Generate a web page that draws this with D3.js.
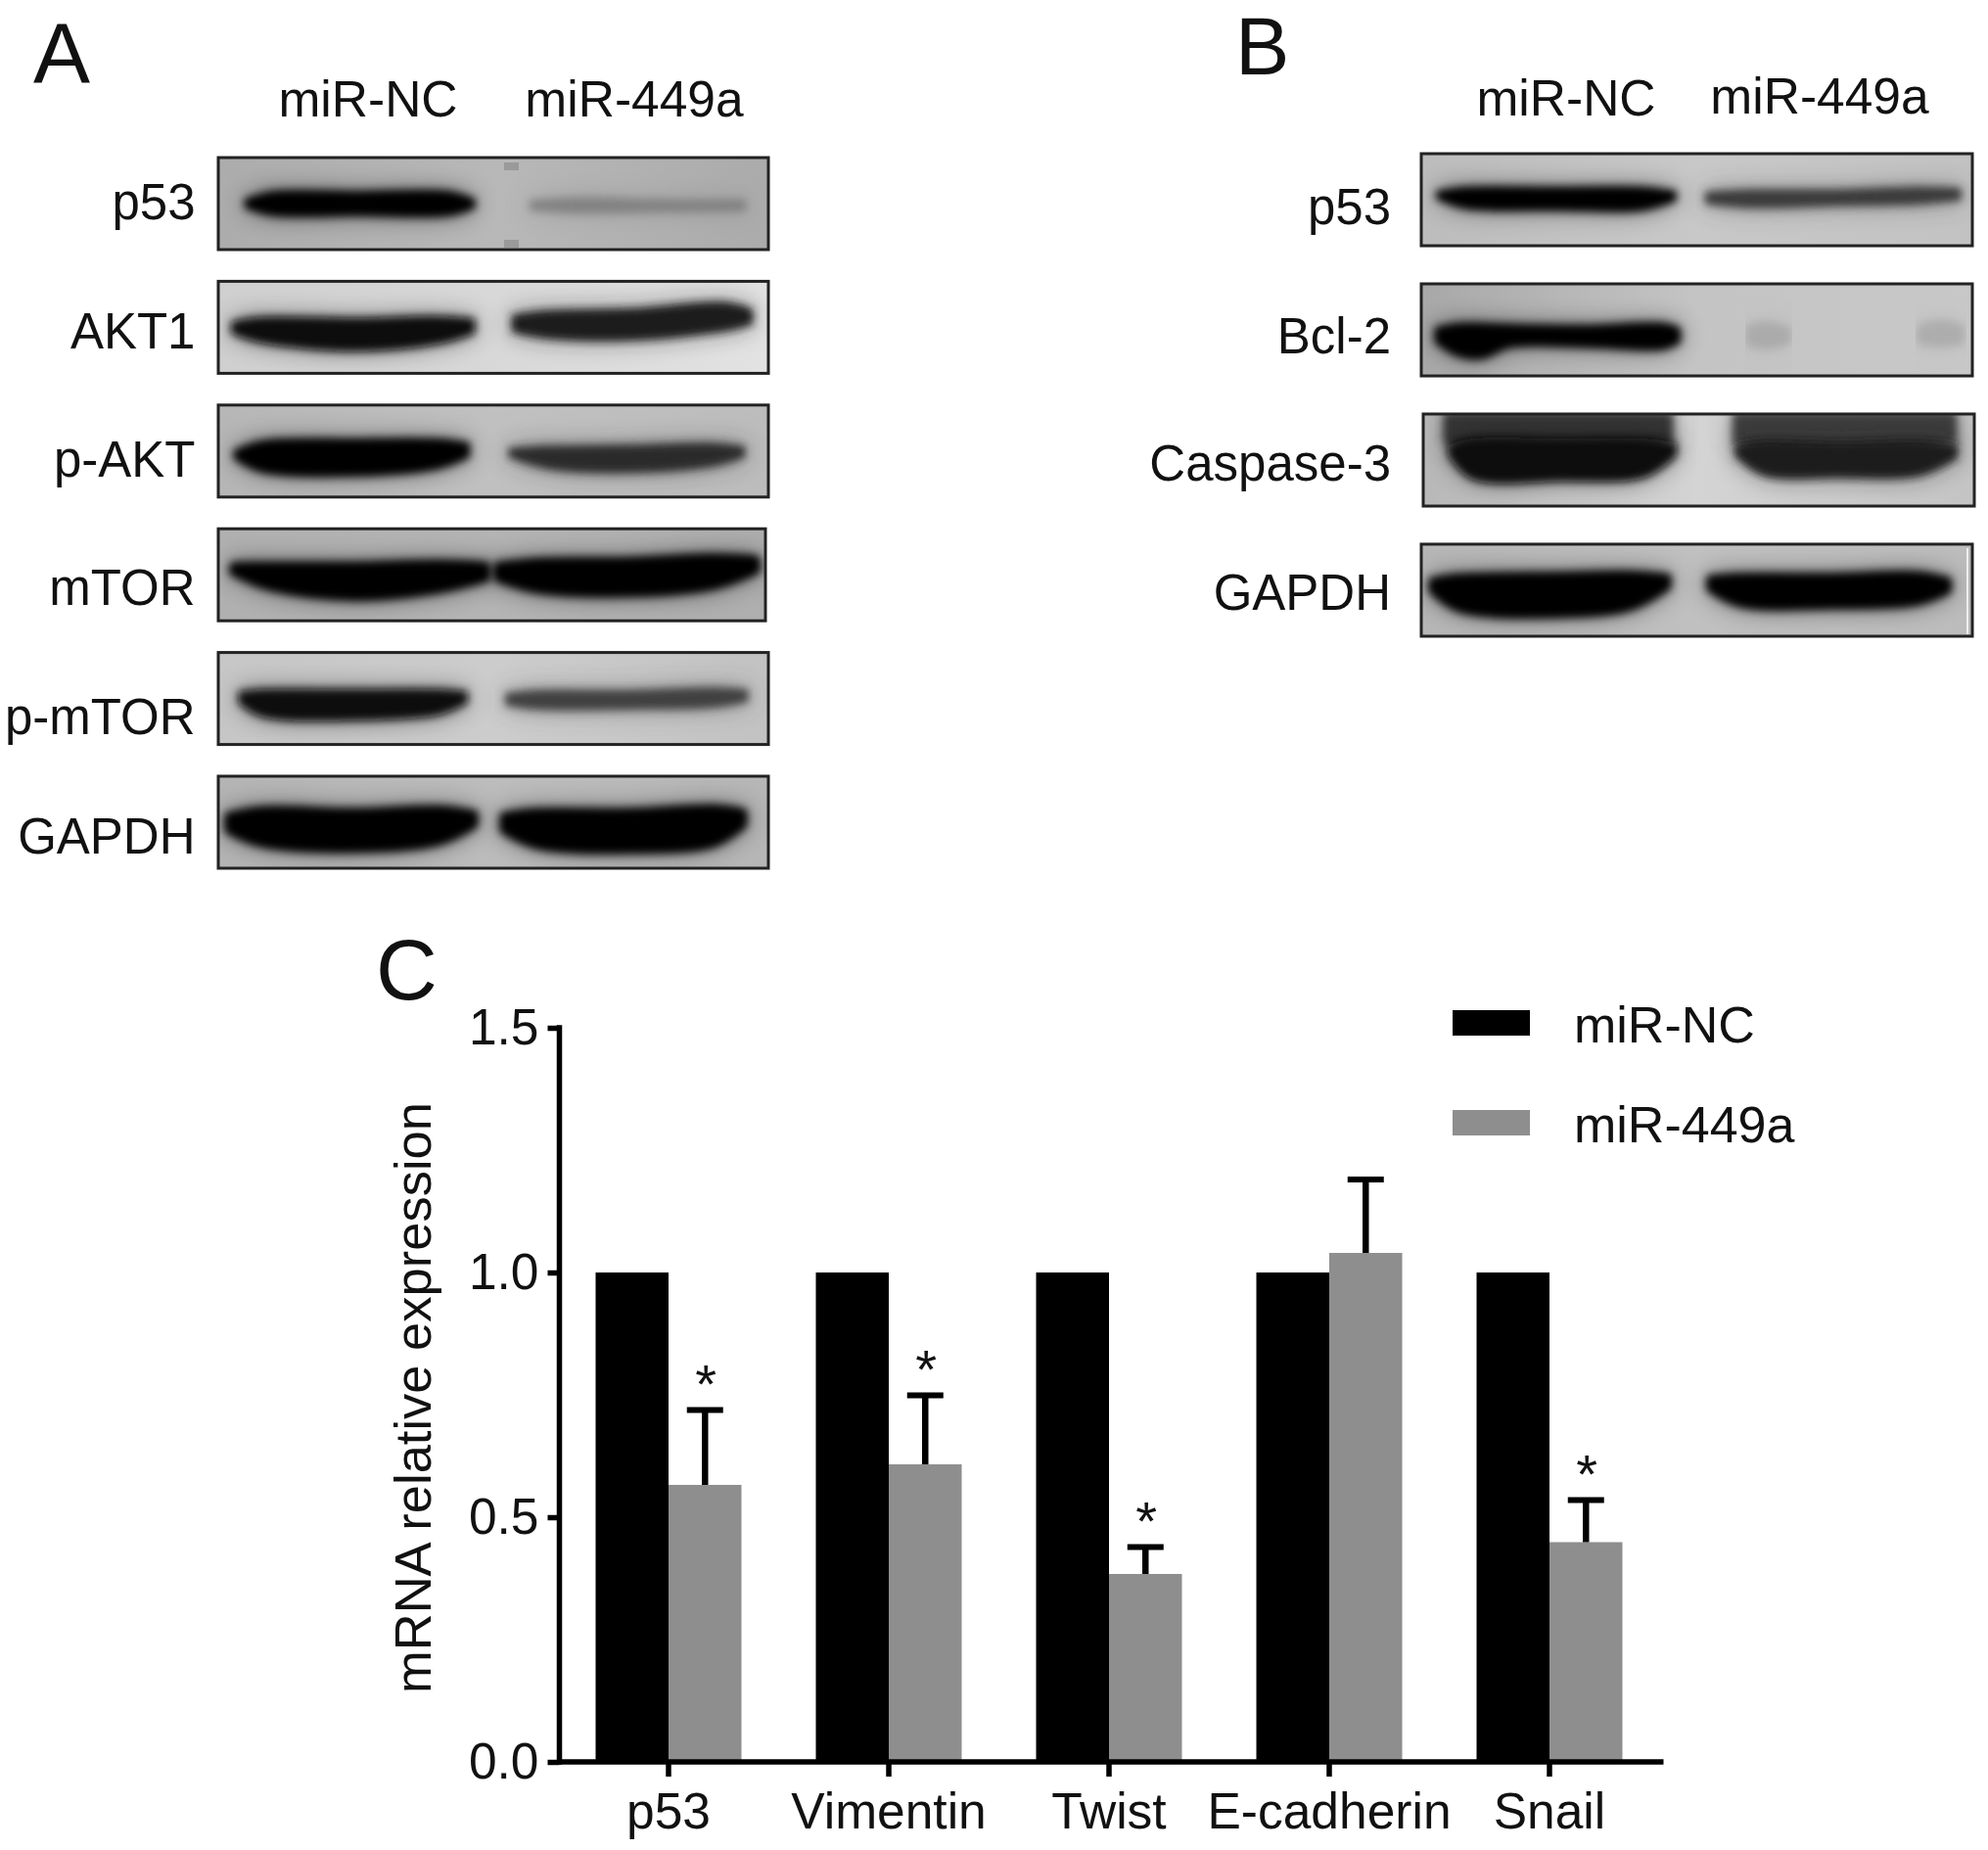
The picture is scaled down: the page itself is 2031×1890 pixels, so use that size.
<!DOCTYPE html>
<html><head><meta charset="utf-8">
<script src="https://cdnjs.cloudflare.com/ajax/libs/d3/7.8.5/d3.min.js"></script>
<style>html,body{margin:0;padding:0;background:#fff}svg{display:block}text{font-family:"Liberation Sans",Arial,sans-serif;fill:#111}</style>
</head><body><svg id="c" width="2031" height="1890"></svg>
<script>
// ---- Panel C data ----
const categories = ["p53","Vimentin","Twist","E-cadherin","Snail"];
const seriesNames = ["miR-NC","miR-449a"];
const miRNC = [1,1,1,1,1];
const miR449a = [0.566,0.608,0.384,1.04,0.449];
const miR449aErr = [0.153,0.141,0.055,0.15,0.086];
const significant = [true,true,true,false,true];
const yTicks = [0,0.5,1,1.5];
const seriesColors = ["#000000","#8e8e8e"];

// ---- Blot panels ----
const rowsA = ["p53","AKT1","p-AKT","mTOR","p-mTOR","GAPDH"];
const rowsB = ["p53","Bcl-2","Caspase-3","GAPDH"];
// background grey: left, middle, right
const bgA = [["#acacac","#b8b8b8","#ababab"],["#cfcfcf","#d8d8d8","#e2e2e2"],["#b6b6b6","#c0c0c0","#bcbcbc"],["#b0b0b0","#b4b4b4","#aeaeae"],["#c6c6c6","#cccccc","#c2c2c2"],["#b4b4b4","#bcbcbc","#b6b6b6"]];
const bgB = [["#bcbcbc","#c8c8c8","#c2c2c2"],["#a8a8a8","#c4c4c4","#c8c8c8"],["#b8b8b8","#d4d4d4","#c4c4c4"],["#b6b6b6","#c0c0c0","#bcbcbc"]];
// bands: grey, thickening w, then [lane fraction, top fraction, bottom fraction]
const bandsA = [
 [{g:"#000",w:3,p:[[.05,.46,.54],[.10,.38,.62],[.25,.38,.62],[.42,.38,.62],[.465,.46,.54]]},
  {g:"#828282",w:5,p:[[.57,.49,.55],[.66,.46,.58],[.8,.48,.57],[.955,.48,.56]]}],
 [{g:"#0a0a0a",w:8,p:[[.03,.47,.54],[.08,.43,.63],[.25,.44,.72],[.40,.42,.64],[.46,.44,.54]]},
  {g:"#1e1e1e",w:8,p:[[.54,.40,.52],[.60,.36,.58],[.75,.34,.60],[.92,.27,.50],[.965,.33,.44]]}],
 [{g:"#050505",w:3,p:[[.03,.50,.58],[.08,.40,.72],[.25,.38,.76],[.40,.38,.68],[.455,.42,.56]]},
  {g:"#2a2a2a",w:3,p:[[.53,.48,.56],[.60,.46,.68],[.75,.45,.72],[.90,.43,.65],[.955,.46,.56]]}],
 [{g:"#000",w:12,p:[[.03,.42,.46],[.10,.42,.62],[.25,.42,.72],[.40,.40,.64],[.485,.42,.52]]},
  {g:"#000",w:12,p:[[.51,.42,.52],[.58,.38,.64],[.75,.37,.68],[.90,.33,.60],[.975,.35,.44]]}],
 [{g:"#0c0c0c",w:4,p:[[.04,.44,.54],[.08,.42,.68],[.25,.42,.72],[.40,.42,.66],[.45,.44,.54]]},
  {g:"#404040",w:4,p:[[.525,.46,.56],[.58,.43,.60],[.75,.43,.60],[.90,.40,.58],[.96,.42,.52]]}],
 [{g:"#000",w:10,p:[[.02,.44,.58],[.08,.38,.72],[.25,.40,.78],[.40,.37,.70],[.464,.42,.52]]},
  {g:"#000",w:10,p:[[.52,.44,.58],[.58,.40,.74],[.75,.40,.79],[.90,.36,.72],[.953,.40,.52]]}]
];
const bandsB = [
 [{g:"#000",w:4,p:[[.03,.42,.48],[.08,.38,.58],[.25,.38,.60],[.40,.38,.60],[.46,.42,.50]]},
  {g:"#3a3a3a",w:6,p:[[.52,.44,.52],[.60,.42,.56],[.75,.42,.54],[.90,.39,.52],[.975,.40,.48]]}],
 [{g:"#000",w:7,p:[[.03,.50,.62],[.07,.46,.76],[.11,.46,.78],[.16,.47,.66],[.3,.48,.66],[.44,.46,.68],[.465,.50,.62]]},
  {g:"#ababab",w:12,p:[[.60,.50,.62],[.63,.48,.64],[.66,.52,.60]]},
  {g:"#adadad",w:12,p:[[.91,.50,.60],[.945,.46,.62],[.975,.50,.60]]}],
 [{g:"#343434",w:4,p:[[.04,.0,.30],[.12,.0,.45],[.3,.0,.45],[.45,.0,.30]]},
  {g:"#0e0e0e",w:6,p:[[.05,.36,.44],[.09,.30,.68],[.25,.30,.70],[.40,.30,.66],[.455,.34,.44]]},
  {g:"#3c3c3c",w:4,p:[[.565,.0,.30],[.65,.0,.45],[.8,.0,.45],[.965,.0,.30]]},
  {g:"#1c1c1c",w:6,p:[[.57,.36,.44],[.62,.32,.64],[.75,.34,.66],[.90,.32,.64],[.965,.36,.46]]}],
 [{g:"#000",w:8,p:[[.02,.40,.50],[.07,.36,.70],[.25,.34,.76],[.38,.33,.68],[.447,.36,.46]]},
  {g:"#000",w:9,p:[[.525,.38,.48],[.58,.36,.64],[.75,.36,.66],[.90,.34,.62],[.955,.40,.50]]}]
];

// ---- Layout ----
const panelA = {letter:"A",lx:34,ly:85,rows:rowsA,bg:bgA,bands:bandsA,x0:223,x1:785,y0:161,y1:887,pad:.2563,shift:[0,0,0,0,0,0],trim:[0,0,0,3,0,0],
  lf:87,labelRight:199.5,labelBase:[224,356,487,618,750,872],heads:[[376,119],[648,119]]};
const panelB = {letter:"B",lx:1262,ly:76,rows:rowsB,bg:bgB,bands:bandsB,x0:1452,x1:2015,y0:157,y1:650,pad:.2927,shift:[0,0,2,0],trim:[0,0,0,0],
  lf:83,labelRight:1421,labelBase:[229,361,491,623],heads:[[1600,118],[1859,116]]};

const svg = d3.select("#c");
const defs = svg.append("defs");
[["core",4.5],["halo",12]].forEach(([id,s])=>{
  defs.append("filter").attr("id",id).attr("x","-20%").attr("y","-300%").attr("width","140%").attr("height","700%")
    .append("feGaussianBlur").attr("stdDeviation",s);
});

function drawPanel(P,key){
  const g = svg.append("g");
  g.append("text").attr("x",P.lx).attr("y",P.ly).attr("font-size",P.lf).text(P.letter);
  seriesNames.forEach((n,i)=>g.append("text").attr("x",P.heads[i][0]).attr("y",P.heads[i][1])
     .attr("text-anchor","middle").attr("font-size",51.5).text(n));
  const rowY = d3.scaleBand().domain(P.rows).range([P.y0,P.y1]).paddingInner(P.pad);
  const h = rowY.bandwidth();
  P.rows.forEach((r,i)=>{
    const gid = key+"bg"+i, cid = key+"clip"+i, dx = P.shift[i];
    const x = d3.scaleLinear().domain([0,1]).range([P.x0+dx,P.x1+dx]);
    const y = d3.scaleLinear().domain([0,1]).range([rowY(r),rowY(r)+h]);
    const w = x(1)-x(0)-P.trim[i];
    const lg = defs.append("linearGradient").attr("id",gid);
    P.bg[i].forEach((c,k)=>lg.append("stop").attr("offset",k/2).attr("stop-color",c));
    defs.append("clipPath").attr("id",cid).append("rect")
      .attr("x",x(0)).attr("y",y(0)).attr("width",w).attr("height",h);
    g.append("text").attr("x",P.labelRight).attr("y",P.labelBase[i]).attr("text-anchor","end").attr("font-size",51).text(r);
    const lane = g.append("g").attr("clip-path",`url(#${cid})`);
    lane.append("rect").attr("x",x(0)).attr("y",y(0)).attr("width",w).attr("height",h).attr("fill",`url(#${gid})`);
    const area = d3.area().x(d=>x(d[0])).y0(d=>y(d[1])).y1(d=>y(d[2])).curve(d3.curveCatmullRom);
    P.bands[i].forEach(b=>{
      lane.append("path").attr("d",area(b.p)).attr("fill",b.g).attr("stroke",b.g).attr("stroke-width",b.w)
        .attr("opacity",.5).attr("filter","url(#halo)");
      lane.append("path").attr("d",area(b.p)).attr("fill",b.g).attr("stroke",b.g).attr("stroke-width",b.w)
        .attr("stroke-linejoin","round").attr("filter","url(#core)");
    });
    g.append("rect").attr("x",x(0)).attr("y",y(0)).attr("width",w).attr("height",h)
      .attr("fill","none").attr("stroke","#222").attr("stroke-width",3);
  });
}
drawPanel(panelA,"a");
drawPanel(panelB,"b");

// small marks on the first blot of panel A, white streak on last of B
svg.append("g").selectAll("rect").data([166,245]).join("rect")
  .attr("x",515).attr("y",d=>d).attr("width",15).attr("height",8).attr("fill","#9a9a9a");
svg.append("rect").attr("x",2009).attr("y",560).attr("width",2).attr("height",88).attr("fill","#eee");

// ---- Panel C ----
const c = svg.append("g");
c.append("text").attr("x",384).attr("y",1021).attr("font-size",87).text("C");
const y = d3.scaleLinear().domain([0,1.5]).range([1800,1050]);
const x = d3.scaleBand().domain(categories).range([570.5,1695.5]);
const barW = 74.5;
const bar = (vals,off,col)=>c.append("g").selectAll("rect").data(vals).join("rect")
  .attr("x",(d,i)=>x(categories[i])+x.bandwidth()/2+off).attr("y",d=>y(d))
  .attr("width",barW).attr("height",d=>y(0)-y(d)).attr("fill",col);
bar(miRNC,-barW,seriesColors[0]);
bar(miR449a,0,seriesColors[1]);
const cx = i=>x(categories[i])+x.bandwidth()/2+barW/2;
const err = c.append("g").attr("stroke","#000");
miR449a.forEach((v,i)=>{
  const top = y(v+miR449aErr[i]);
  err.append("line").attr("x1",cx(i)).attr("x2",cx(i)).attr("y1",y(v)).attr("y2",top).attr("stroke-width",6.5);
  err.append("line").attr("x1",cx(i)-18.5).attr("x2",cx(i)+18.5).attr("y1",top).attr("y2",top).attr("stroke-width",6);
  if(significant[i]) c.append("text").attr("x",cx(i)+1).attr("y",top-8).attr("text-anchor","middle").attr("font-size",56).text("*");
});
const yAxis = d3.axisLeft(y).tickValues(yTicks).tickFormat(d3.format(".1f")).tickSize(12).tickPadding(9);
const xAxis = d3.axisBottom(x).tickSize(15).tickPadding(16);
const ga = c.append("g").attr("transform","translate(571.5,0)").call(yAxis);
const gb = c.append("g").attr("transform","translate(0,1800)").call(xAxis);
[ga,gb].forEach(s=>{
  s.select(".domain").remove();
  s.selectAll("line").attr("stroke","#000").attr("stroke-width",5.5);
  s.selectAll("text").attr("font-size",51.5).attr("font-family",'"Liberation Sans",Arial,sans-serif').attr("fill","#111");
});
c.append("line").attr("x1",571.5).attr("x2",571.5).attr("y1",y(0)+2.75).attr("y2",y(1.5)-2.75).attr("stroke","#000").attr("stroke-width",5.5);
c.append("line").attr("x1",571.5).attr("x2",1699.5).attr("y1",y(0)).attr("y2",y(0)).attr("stroke","#000").attr("stroke-width",5.5);
c.append("text").attr("transform","translate(440,1428) rotate(-90)").attr("text-anchor","middle").attr("font-size",52.5).text("mRNA relative expression");
// legend
seriesNames.forEach((n,i)=>{
  const ly = 1032+i*102;
  c.append("rect").attr("x",1484).attr("y",ly).attr("width",79).attr("height",26).attr("fill",seriesColors[i]);
  c.append("text").attr("x",1608).attr("y",ly+33).attr("font-size",52).text(n);
});
</script></body></html>
